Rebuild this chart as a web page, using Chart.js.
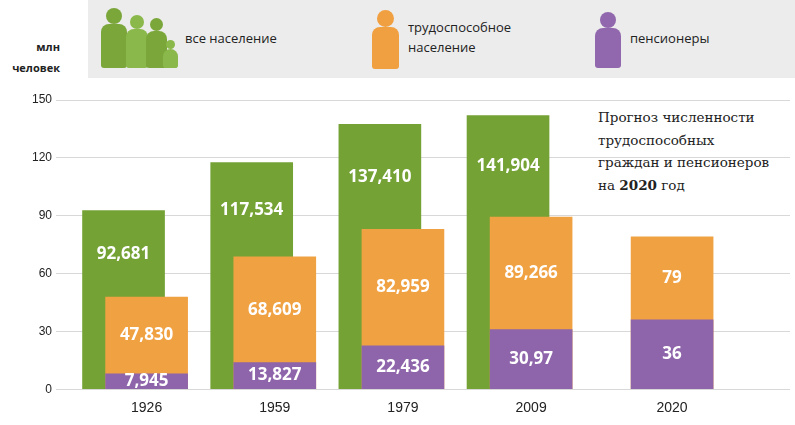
<!DOCTYPE html>
<html><head><meta charset="utf-8">
<script src="https://cdn.jsdelivr.net/npm/chart.js@4"></script>
<style>
body{margin:0;width:795px;height:425px;overflow:hidden;background:#fff;font-family:"Open Sans",sans-serif;position:relative}
#hdr{position:absolute;left:88px;top:0;width:707px;height:78px;background:#ececec}
.t{position:absolute;font-size:13px;color:#222;line-height:20px}
.u{position:absolute;font-size:11px;font-weight:bold;color:#222;text-align:right;line-height:21px}
.note{position:absolute;left:598px;top:106px;font-family:"DejaVu Serif",serif;font-size:13.5px;line-height:22.5px;color:#222}
.h{position:absolute;border-radius:50%}
.b{position:absolute;border-radius:8px 8px 3px 3px}
canvas{position:absolute;left:0;top:0}
</style></head><body>
<div id="hdr"></div>
<div class="u" style="left:0;top:36px;width:60px">млн<br>человек</div>
<div class="h" style="left:106px;top:8px;width:16px;height:16px;background:#7aa63a"></div>
<div class="b" style="left:101px;top:24px;width:26px;height:44px;background:#7aa63a"></div>
<div class="h" style="left:130px;top:15px;width:14px;height:14px;background:#8ab84a"></div>
<div class="b" style="left:126px;top:29px;width:22px;height:39px;background:#8ab84a"></div>
<div class="h" style="left:150px;top:18px;width:13px;height:13px;background:#7aa63a"></div>
<div class="b" style="left:146px;top:31px;width:21px;height:37px;background:#7aa63a"></div>
<div class="h" style="left:166px;top:40px;width:9px;height:9px;background:#8ab84a"></div>
<div class="b" style="left:163px;top:49px;width:15px;height:19px;background:#8ab84a"></div>
<div class="t" style="left:185px;top:28px">все население</div>
<div class="h" style="left:377px;top:10px;width:17px;height:17px;background:#f0a040"></div>
<div class="b" style="left:372px;top:27px;width:27px;height:42px;background:#f0a040"></div>
<div class="t" style="left:408px;top:17px">трудоспособное<br>население</div>
<div class="h" style="left:600px;top:12px;width:16px;height:16px;background:#9168ad"></div>
<div class="b" style="left:595px;top:28px;width:26px;height:40px;background:#9168ad"></div>
<div class="t" style="left:630px;top:28px">пенсионеры</div>
<div class="note">Прогноз численности<br>трудоспособных<br>граждан и пенсионеров<br>на <b>2020</b> год</div>
<canvas id="c" width="795" height="425"></canvas>
<script>
const years=['1926','1959','1979','2009','2020'];
const xPos=[0,1,2,3,4.1];
const totalPop=[92.681,117.534,137.410,141.904,null];
const working=[47.830,68.609,82.959,89.266,79];
const pensioners=[7.945,13.827,22.436,30.97,36];
const totalLbl=['92,681','117,534','137,410','141,904',''];
const workLbl=['47,830','68,609','82,959','89,266','79'];
const penLbl=['7,945','13,827','22,436','30,97','36'];
const yTicks=[0,30,60,90,120,150];
const GOFF=-0.18;
const pts=(arr,off)=>arr.map((v,i)=>v==null?null:{x:xPos[i]+off,y:v}).filter(p=>p);
const labelPlugin={id:'lbl',afterDatasetsDraw(ch){
  const c=ch.ctx;c.save();c.fillStyle='#fff';c.font='bold 17px "Open Sans"';c.textAlign='center';c.textBaseline='middle';
  const g=ch.getDatasetMeta(0).data,o=ch.getDatasetMeta(1).data,p=ch.getDatasetMeta(2).data;
  g.forEach((e,i)=>c.fillText(totalLbl[i],e.x,(e.y+o[i].y)/2));
  o.forEach((e,i)=>c.fillText(workLbl[i],e.x,(e.y+p[i].y)/2));
  p.forEach((e,i)=>c.fillText(penLbl[i],e.x,(e.y+e.base)/2));
  c.restore();}};
new Chart(document.getElementById('c'),{type:'bar',
 data:{datasets:[
  {data:pts(totalPop,GOFF),backgroundColor:'#74a235',grouped:false,barThickness:82,order:3},
  {data:pts(working,0),backgroundColor:'#f0a142',grouped:false,barThickness:82,order:2},
  {data:pts(pensioners,0),backgroundColor:'#8e64aa',grouped:false,barThickness:82,order:1}]},
 options:{responsive:false,animation:false,
  layout:{padding:{top:100,right:5,bottom:5,left:28}},
  plugins:{legend:{display:false},tooltip:{enabled:false}},
  scales:{
   x:{type:'linear',offset:false,min:-0.66,max:5.02,grid:{display:false},border:{display:false},
      afterBuildTicks(s){s.ticks=xPos.map(v=>({value:v}));},
      ticks:{callback:(v,i)=>years[i],color:'#222',font:{size:14},autoSkip:false,maxRotation:0}},
   y:{min:0,max:150,afterBuildTicks(s){s.ticks=yTicks.map(v=>({value:v}));},
      grid:{color:'#d8d8d8',tickLength:6},border:{display:false},
      ticks:{color:'#222',font:{size:12},padding:4}}}},
 plugins:[labelPlugin]});
</script></body></html>
